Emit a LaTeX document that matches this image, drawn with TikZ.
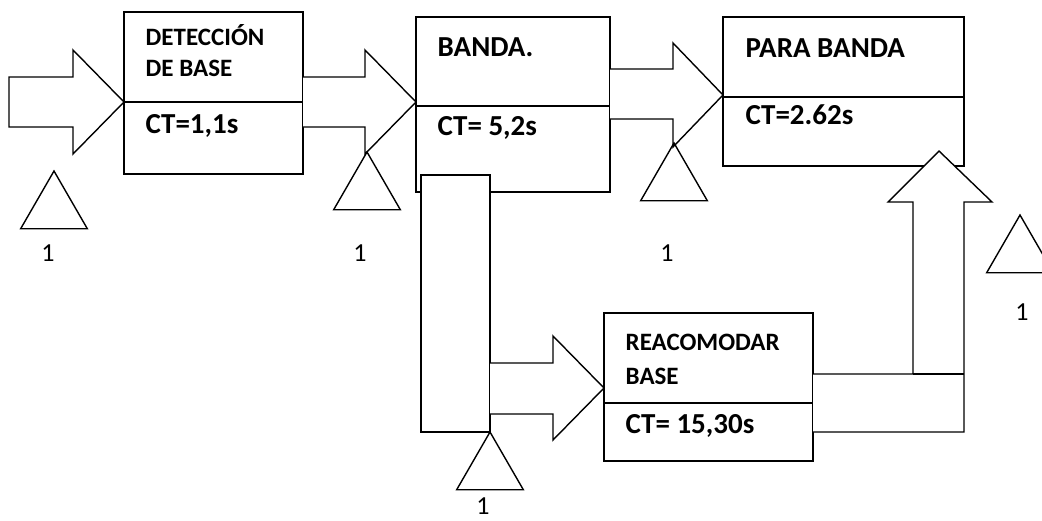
\documentclass[tikz,border=0pt]{standalone}
\usepackage{fontspec}
\setmainfont{Carlito}
\usetikzlibrary{shapes.geometric}
\tikzstyle{whbox} = [rectangle, draw=black, fill=white, inner sep=0pt, outer sep=0pt]
\tikzstyle{whtri} = [regular polygon, regular polygon sides=3, draw=black, minimum size=77pt, inner sep=0pt, outer sep=0pt, anchor=corner 1]
\tikzstyle{whtext} = [anchor=base west, inner sep=0pt, font=\fontsize{29}{34}\selectfont\bfseries]
\tikzstyle{whsmall} = [anchor=base west, inner sep=0pt, font=\fontsize{25}{30}\selectfont\bfseries]
\tikzstyle{whnum} = [anchor=base, inner sep=0pt, font=\fontsize{26}{31}\selectfont]
\tikzstyle{wharrow} = [draw=black, fill=white]

\begin{document}
\begin{tikzpicture}[x=1pt, y=-1pt, line width=1.4pt]
		\useasboundingbox (0,0) rectangle (1042,520);
		% boxes
		\node (det) [whbox, minimum width=179pt, minimum height=162pt] at (213.5,93) {};
		\node (banda) [whbox, minimum width=194pt, minimum height=175pt] at (513,104.5) {};
		\node (col) [whbox, minimum width=69pt, minimum height=257pt] at (455.5,303.5) {};
		\node (para) [whbox, minimum width=241pt, minimum height=149pt] at (843.5,91.5) {};
		\node (reac) [whbox, minimum width=209pt, minimum height=148pt] at (708.5,387) {};
		\draw (det.west |- 0,102) -- (det.east |- 0,102);
		\draw (banda.west |- 0,106) -- (banda.east |- 0,106);
		\draw (para.west |- 0,97) -- (para.east |- 0,97);
		\draw (reac.west |- 0,403) -- (reac.east |- 0,403);
		
		\node (detA) [whsmall] at (145,45) {DETECCIÓN};
		\node (detB) [whsmall] at (145,76) {DE BASE};
		\node (detCT) [whtext] at (145,133) {CT=1,1s};
		\node (bandaT) [whtext] at (437,56) {BANDA.};
		\node (bandaCT) [whtext] at (437,135) {CT= 5,2s};
		\node (paraT) [whtext] at (745,57) {PARA BANDA};
		\node (paraCT) [whtext] at (745,124) {CT=2.62s};
		\node (reacA) [whsmall] at (625,350) {REACOMODAR};
		\node (reacB) [whsmall] at (625,384) {BASE};
		\node (reacCT) [whtext] at (625,433) {CT= 15,30s};
		
		% block arrows
		\draw [wharrow] (9,77) -- (73,77) -- (73,50) -- (det.west |- 0,102) -- (73,154) -- (73,127) -- (9,127) -- cycle;
		\draw [wharrow] (det.east |- 0,77) -- (365,77) -- (365,50) -- (banda.west |- 0,102) -- (365,154) -- (365,127) -- (det.east |- 0,127);
		\draw [wharrow] (banda.east |- 0,69) -- (673,69) -- (673,43) -- (para.west |- 0,95) -- (673,147) -- (673,119) -- (banda.east |- 0,119);
		\draw [wharrow] (col.east |- 0,363) -- (553,363) -- (553,336) -- (reac.west |- 0,388) -- (553,440) -- (553,414) -- (col.east |- 0,414);
		\draw [wharrow] (reac.east |- 0,374) -- (913,374) -- (913,202) -- (888,202) -- (939,151) -- (992,202) -- (964,202) -- (964,432) -- (reac.east |- 0,432);
		\draw (913,374) -- (964,374);
		
		% inventories
		\node (tri1) [whtri] at (54,171) {};
		\node (tri2) [whtri] at (367,152) {};
		\node (tri3) [whtri] at (674,143) {};
		\node (tri4) [whtri] at (col.south east) {};
		\node (tri5) [whtri] at (1020,215) {};
		\node (n1) [whnum] at (48,261) {1};
		\node (n2) [whnum] at (360,261) {1};
		\node (n3) [whnum] at (667,261) {1};
		\node (n4) [whnum] at (483,514) {1};
		\node (n5) [whnum] at (1022,320) {1};
	\end{tikzpicture}
\end{document}
